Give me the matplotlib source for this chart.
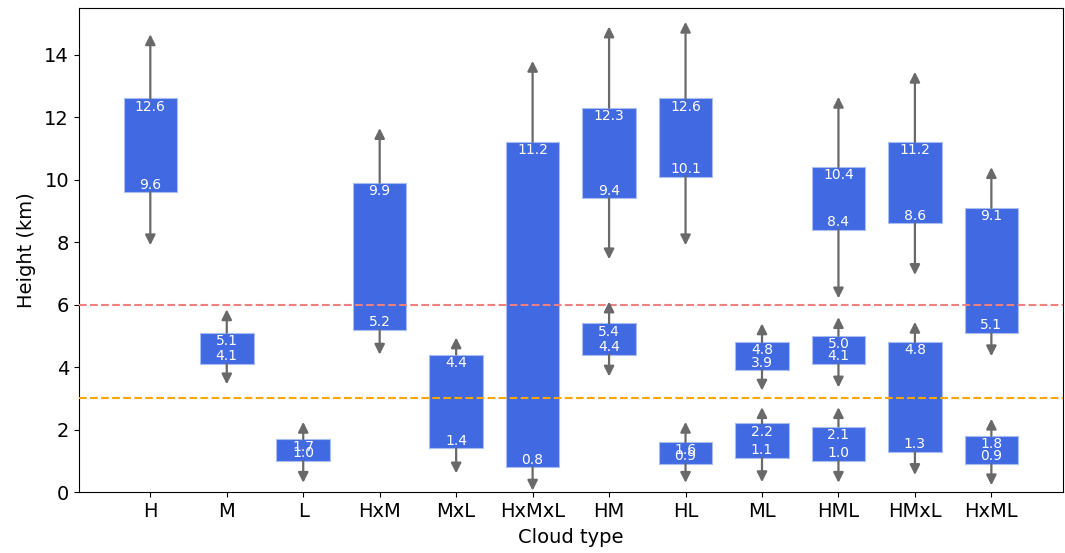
import matplotlib
matplotlib.use("Agg")
import matplotlib.pyplot as plt

categories = ["H", "M", "L", "HxM", "MxL", "HxMxL", "HM", "HL", "ML", "HML", "HMxL", "HxML"]

# one entry per box: category, box bottom, box top, lower arrow tip, upper arrow tip
seg_cat = ["H", "M", "L", "HxM", "MxL", "HxMxL", "HM", "HM", "HL", "HL",
           "ML", "ML", "HML", "HML", "HML", "HMxL", "HMxL", "HxML", "HxML"]
seg_low = [9.6, 4.1, 1.0, 5.2, 1.4, 0.8, 9.4, 4.4, 10.1, 0.9,
           3.9, 1.1, 8.4, 4.1, 1.0, 8.6, 1.3, 5.1, 0.9]
seg_high = [12.6, 5.1, 1.7, 9.9, 4.4, 11.2, 12.3, 5.4, 12.6, 1.6,
            4.8, 2.2, 10.4, 5.0, 2.1, 11.2, 4.8, 9.1, 1.8]
seg_min = [7.9, 3.45, 0.3, 4.4, 0.6, 0.05, 7.45, 3.7, 7.9, 0.3,
           3.25, 0.32, 6.2, 3.35, 0.3, 6.95, 0.55, 4.35, 0.22]
seg_max = [14.65, 5.85, 2.25, 11.65, 4.95, 13.8, 14.9, 6.1, 15.05, 2.25,
           5.4, 2.72, 12.65, 5.6, 2.72, 13.45, 5.45, 10.4, 2.35]

fig, ax = plt.subplots(figsize=(10.65, 5.53), dpi=100)
fig.subplots_adjust(left=0.074, right=0.998, top=0.986, bottom=0.11)

x = [categories.index(c) for c in seg_cat]
heights = [h - l for l, h in zip(seg_low, seg_high)]
ax.bar(x, heights, bottom=seg_low, width=0.7, color="royalblue",
       edgecolor="#a9bdf0", linewidth=0.8, zorder=2)

arrow = dict(arrowstyle="-|>", color="dimgray", lw=1.6,
             mutation_scale=15, shrinkA=0, shrinkB=0)
for xi, lo, hi, mn, mx in zip(x, seg_low, seg_high, seg_min, seg_max):
    ax.annotate("", xy=(xi, mx), xytext=(xi, hi), arrowprops=arrow, zorder=4)
    ax.annotate("", xy=(xi, mn), xytext=(xi, lo), arrowprops=arrow, zorder=4)
    ax.text(xi, hi - 0.04, f"{hi:.1f}", color="white", ha="center", va="top",
            fontsize=10, zorder=5)
    ax.text(xi, lo + 0.02, f"{lo:.1f}", color="white", ha="center", va="bottom",
            fontsize=10, zorder=5)

ax.axhline(6, color="lightcoral", linestyle="--", lw=1.5, zorder=3)
ax.axhline(3, color="orange", linestyle="--", lw=1.5, zorder=3)

ax.set_xticks(range(len(categories)))
ax.set_xticklabels(categories)
ax.tick_params(labelsize=14)
ax.set_ylim(0, 15.5)
ax.set_xlabel("Cloud type", fontsize=14, labelpad=5)
ax.set_ylabel("Height (km)", fontsize=14, labelpad=6)

plt.savefig("out.png")
